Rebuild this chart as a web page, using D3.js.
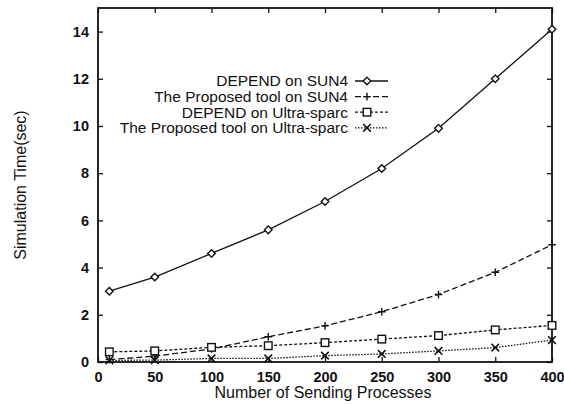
<!DOCTYPE html>
<html><head><meta charset="utf-8">
<script src="https://cdn.jsdelivr.net/npm/d3@7"></script>
<style>body{margin:0;background:#fff}svg{display:block}text{font-family:"Liberation Sans",Arial,sans-serif;fill:#111}</style>
</head><body><svg id="c" width="564" height="405"></svg>
<script>
const xs = [10, 50, 100, 150, 200, 250, 300, 350, 400];
const dependSun4 = [3.0, 3.6, 4.6, 5.6, 6.8, 8.2, 9.9, 12.0, 14.1];
const proposedSun4 = [0.1, 0.25, 0.55, 1.07, 1.53, 2.13, 2.86, 3.8, 4.97];
const dependUltra = [0.43, 0.47, 0.62, 0.69, 0.82, 0.97, 1.12, 1.36, 1.55];
const proposedUltra = [0.07, 0.08, 0.15, 0.15, 0.27, 0.34, 0.47, 0.61, 0.93];
const xTicks = [0, 50, 100, 150, 200, 250, 300, 350, 400];
const yTicks = [0, 2, 4, 6, 8, 10, 12, 14];
const seriesNames = ["DEPEND on SUN4", "The Proposed tool on SUN4", "DEPEND on Ultra-sparc", "The Proposed tool on Ultra-sparc"];
const seriesVals = [dependSun4, proposedSun4, dependUltra, proposedUltra];
const markers = ["diamond", "plus", "square", "cross"];
const dashes = [null, "6,3", "3,2", "1.5,1.5"];

const svg = d3.select("#c");
const L = 98, R = 552, T = 8, B = 362;
const x = d3.scaleLinear().domain([0, 400]).range([L, R]);
const y = d3.scaleLinear().domain([0, 15]).range([B, T]);

// frame
svg.append("rect").attr("x", L).attr("y", T).attr("width", R - L).attr("height", B - T)
  .attr("fill", "none").attr("stroke", "#111").attr("stroke-width", 1.8);

// axes
const gx = svg.append("g").attr("transform", `translate(0,${B})`)
  .call(d3.axisBottom(x).tickValues(xTicks).tickSizeInner(-5).tickSizeOuter(0).tickPadding(10));
const gxt = svg.append("g").attr("transform", `translate(0,${T})`)
  .call(d3.axisTop(x).tickValues(xTicks).tickSizeInner(-5).tickSizeOuter(0).tickFormat(""));
const gy = svg.append("g").attr("transform", `translate(${L},0)`)
  .call(d3.axisLeft(y).tickValues(yTicks).tickSizeInner(-5).tickSizeOuter(0).tickPadding(9));
const gyr = svg.append("g").attr("transform", `translate(${R},0)`)
  .call(d3.axisRight(y).tickValues(yTicks).tickSizeInner(-5).tickSizeOuter(0).tickFormat(""));
[gx, gxt, gy, gyr].forEach(g => {
  g.select(".domain").remove();
  g.selectAll("line").attr("stroke", "#111").attr("stroke-width", 1.3);
  g.selectAll("text").style("font-size", "14.5px").style("font-weight", "bold")
    .style("font-family", '"Liberation Sans",Arial,sans-serif').attr("fill", "#111");
});

// titles
svg.append("text").attr("x", (L + R) / 2 - 2).attr("y", 398).attr("text-anchor", "middle")
  .style("font-size", "16px").text("Number of Sending Processes");
svg.append("text").attr("transform", `translate(26,${(T + B) / 2}) rotate(-90)`).attr("text-anchor", "middle")
  .style("font-size", "16px").text("Simulation Time(sec)");

function drawMarker(g, type, cx, cy) {
  const s = 3.8;
  if (type === "diamond") {
    g.append("path").attr("d", `M${cx},${cy - s}L${cx + s},${cy}L${cx},${cy + s}L${cx - s},${cy}Z`)
      .attr("fill", "#fff").attr("stroke", "#111").attr("stroke-width", 1.4);
  } else if (type === "plus") {
    g.append("path").attr("d", `M${cx - s},${cy}H${cx + s}M${cx},${cy - s}V${cy + s}`)
      .attr("stroke", "#111").attr("stroke-width", 1.4).attr("fill", "none");
  } else if (type === "square") {
    g.append("rect").attr("x", cx - s).attr("y", cy - s).attr("width", 2 * s).attr("height", 2 * s)
      .attr("fill", "#fff").attr("stroke", "#111").attr("stroke-width", 1.4);
  } else {
    g.append("path").attr("d", `M${cx - s},${cy - s}L${cx + s},${cy + s}M${cx - s},${cy + s}L${cx + s},${cy - s}`)
      .attr("stroke", "#111").attr("stroke-width", 1.6).attr("fill", "none");
  }
}

const line = d3.line().x(d => x(d[0])).y(d => y(d[1]));
seriesVals.forEach((vals, i) => {
  const pts = xs.map((v, j) => [v, vals[j]]);
  const g = svg.append("g");
  g.append("path").attr("d", line(pts)).attr("fill", "none").attr("stroke", "#111")
    .attr("stroke-width", 1.3).attr("stroke-dasharray", dashes[i]);
  pts.forEach(p => drawMarker(g, markers[i], x(p[0]), y(p[1])));
});

// legend
const lx = 348, ly0 = 81, ldy = 15.6;
seriesNames.forEach((name, i) => {
  const yy = ly0 + i * ldy;
  svg.append("text").attr("x", lx).attr("y", yy + 5.3).attr("text-anchor", "end")
    .style("font-size", "15.5px").text(name);
  svg.append("line").attr("x1", lx + 7).attr("x2", lx + 40).attr("y1", yy).attr("y2", yy)
    .attr("stroke", "#111").attr("stroke-width", 1.3).attr("stroke-dasharray", dashes[i]);
  drawMarker(svg, markers[i], lx + 19, yy);
});
</script></body></html>
